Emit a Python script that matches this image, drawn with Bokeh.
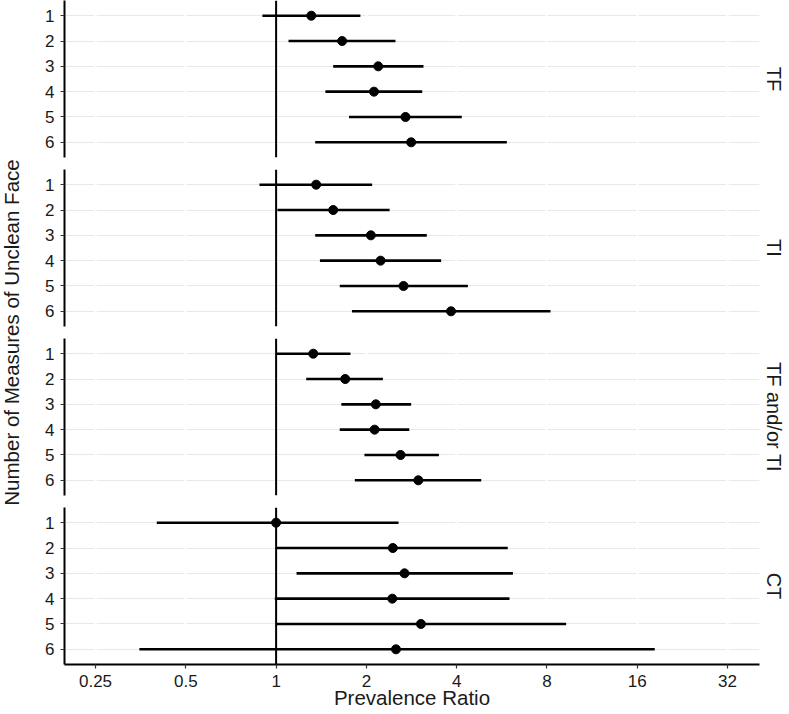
from bokeh.plotting import figure
from bokeh.layouts import row, column
from bokeh.models import Range1d, FixedTicker, Span, CustomJSTickFormatter
from bokeh.core.properties import value
from bokeh.embed import file_html
from bokeh.resources import INLINE

# ---------------- data ----------------
measures = [1, 2, 3, 4, 5, 6]
outcomes = ["TF", "TI", "TF and/or TI", "CT"]

pr_tf = [1.31, 1.66, 2.19, 2.12, 2.70, 2.82]
lo_tf = [0.90, 1.10, 1.55, 1.46, 1.75, 1.35]
hi_tf = [1.91, 2.50, 3.10, 3.07, 4.16, 5.88]

pr_ti = [1.36, 1.55, 2.07, 2.23, 2.66, 3.83]
lo_ti = [0.88, 1.01, 1.35, 1.40, 1.63, 1.79]
hi_ti = [2.09, 2.39, 3.18, 3.55, 4.36, 8.22]

pr_either = [1.33, 1.70, 2.15, 2.13, 2.60, 2.98]
lo_either = [1.00, 1.26, 1.65, 1.63, 1.97, 1.83]
hi_either = [1.77, 2.27, 2.82, 2.78, 3.49, 4.83]

pr_ct = [1.00, 2.45, 2.68, 2.44, 3.04, 2.51]
lo_ct = [0.40, 1.00, 1.17, 0.99, 1.00, 0.35]
hi_ct = [2.56, 5.92, 6.16, 6.00, 9.27, 18.3]

x_ticks = [0.25, 0.5, 1, 2, 4, 8, 16, 32]
reference_value = 1

series = [(pr_tf, lo_tf, hi_tf), (pr_ti, lo_ti, hi_ti),
          (pr_either, lo_either, hi_either), (pr_ct, lo_ct, hi_ct)]

# ---------------- layout constants ----------------
FONT = "Liberation Sans"
FW = 695          # frame width
FH = 157          # frame height
GAP = 12
BOTTOM = 48
TITLE_W = 22
LEFT = 42
TOTAL_H = 4 * FH + 3 * GAP + BOTTOM
TXT = "#1a1a1a"

x_range = Range1d(0.197, 40.9)

panels = []
for k, (name, (pr, lo, hi)) in enumerate(zip(outcomes, series)):
    last = k == len(outcomes) - 1
    p = figure(frame_width=FW, frame_height=FH, x_axis_type="log",
               x_range=x_range, y_range=Range1d(6.6, 0.4),
               output_backend="svg", toolbar_location=None,
               min_border_left=LEFT, min_border_right=0, min_border_top=0,
               min_border_bottom=BOTTOM if last else GAP,
               title=name, title_location="right")
    p.outline_line_color = None
    p.background_fill_color = "white"
    p.border_fill_color = "white"

    p.title.text_font = FONT
    p.title.text_font_size = "20px"
    p.title.text_font_style = "normal"
    p.title.text_color = TXT
    p.title.align = "center"
    p.title.standoff = 6

    # grids: grey horizontal lines, broken by white vertical lines
    p.ygrid.ticker = FixedTicker(ticks=measures)
    p.ygrid.grid_line_color = "#e8e8e8"
    p.ygrid.grid_line_width = 1.2
    p.ygrid.level = "image"
    p.xgrid.ticker = FixedTicker(ticks=x_ticks)
    p.xgrid.grid_line_color = "white"
    p.xgrid.grid_line_width = 2.5
    p.xgrid.level = "underlay"

    # y axis
    ya = p.yaxis[0]
    ya.ticker = FixedTicker(ticks=measures)
    ya.axis_line_color = "black"
    ya.axis_line_width = 2
    ya.major_tick_out = 4
    ya.major_tick_in = 0
    ya.major_tick_line_color = "#333333"
    ya.major_tick_line_width = 1.2
    ya.minor_tick_line_color = None
    ya.major_label_text_font = FONT
    ya.major_label_text_font_size = "17px"
    ya.major_label_text_color = TXT
    ya.major_label_standoff = 6

    xa = p.xaxis[0]
    if last:
        xa.ticker = FixedTicker(ticks=x_ticks)
        xa.formatter = CustomJSTickFormatter(code="return tick.toString()")
        xa.axis_line_color = "black"
        xa.axis_line_width = 2
        xa.major_tick_out = 4
        xa.major_tick_in = 0
        xa.major_tick_line_color = "#333333"
        xa.major_tick_line_width = 1.2
        xa.minor_tick_line_color = None
        xa.major_label_text_font = FONT
        xa.major_label_text_font_size = "17px"
        xa.major_label_text_color = TXT
        xa.major_label_standoff = 6
        xa.axis_label = "Prevalence Ratio"
        xa.axis_label_text_font = FONT
        xa.axis_label_text_font_size = "20.5px"
        xa.axis_label_text_font_style = "normal"
        xa.axis_label_text_color = TXT
        xa.axis_label_standoff = -4
    else:
        xa.visible = False

    p.add_layout(Span(location=reference_value, dimension="height",
                      line_color="black", line_width=2))
    p.segment(x0=lo, y0=measures, x1=hi, y1=measures,
              line_color="black", line_width=2.6)
    p.scatter(x=pr, y=measures, size=9, fill_color="black", line_color="black")
    panels.append(p)

# y-axis title spanning all panels
t = figure(width=TITLE_W, height=TOTAL_H, x_range=Range1d(0, 1),
           y_range=Range1d(TOTAL_H, 0), output_backend="svg",
           toolbar_location=None, x_axis_location=None, y_axis_location=None,
           min_border=0)
t.outline_line_color = None
t.xgrid.visible = False
t.ygrid.visible = False
t.text(x=[0.5], y=[(4 * FH + 3 * GAP) / 2],
       text=["Number of Measures of Unclean Face"], angle=1.5707963,
       text_align="center", text_baseline="middle",
       text_font=value(FONT), text_font_size="20.5px", text_color=TXT)

layout = row(t, column(*panels, spacing=0), spacing=0)

open("out.html", "w").write(file_html(layout, INLINE))
